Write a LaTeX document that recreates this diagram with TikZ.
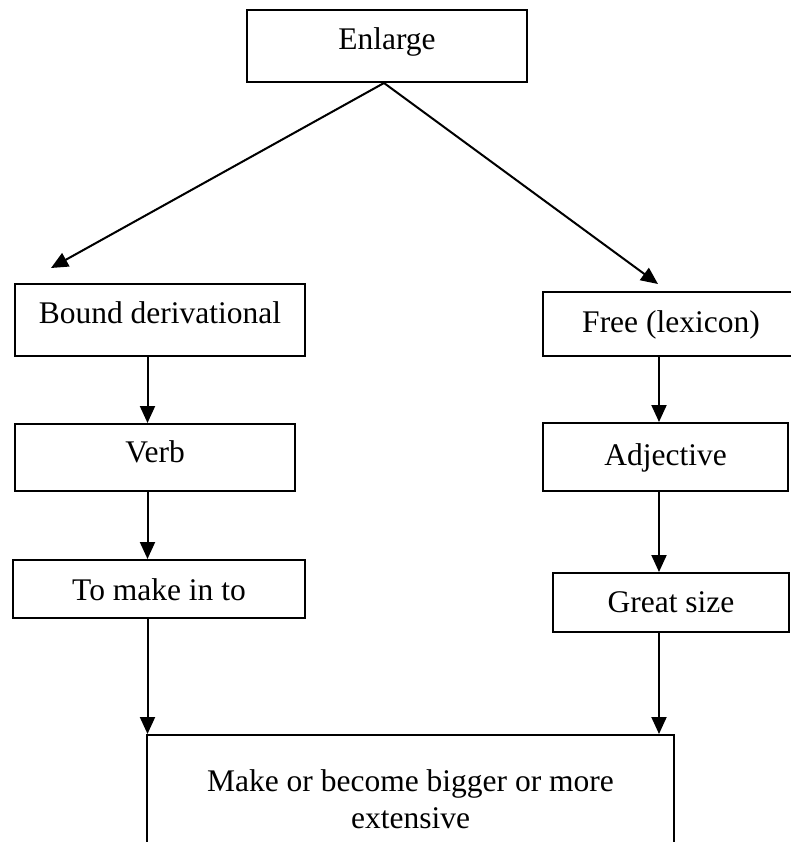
\documentclass[tikz,border=0pt]{standalone}
\usepackage{fontspec}
\setmainfont{Liberation Serif}
\usetikzlibrary{arrows.meta}
\begin{document}
\begin{tikzpicture}[x=1pt,y=-1pt,
  box/.style={draw,line width=2pt,rectangle,inner sep=0pt,text height=22pt,
    font=\fontsize{31.5}{37}\selectfont},
  arr/.style={line width=2pt,-{Triangle[length=17pt,width=15pt]}}]
\useasboundingbox (0,0) rectangle (791,842);

% boxes (text depth sets where each label sits in its box)
\node[box,text depth=14pt,minimum width=280pt,minimum height=72pt] (enlarge) at (387,46) {Enlarge};
\node[box,text depth=16pt,minimum width=290pt,minimum height=72pt] (bound) at (160,320) {Bound derivational};
\node[box,text depth=6pt,minimum width=256pt,minimum height=64pt] (free) at (671,324) {Free (lexicon)};
\node[box,text depth=13pt,minimum width=280pt,minimum height=67pt] (verb) at (155,457.5) {Verb};
\node[box,text depth=6pt,minimum width=245pt,minimum height=68pt] (adj) at (665.5,457) {Adjective};
\node[box,text depth=0pt,minimum width=292pt,minimum height=58pt] (tomake) at (159,589) {To make in to};
\node[box,text depth=3pt,minimum width=236pt,minimum height=59pt] (great) at (671,602.5) {Great size};
\node[draw,line width=2pt,inner sep=0pt,font=\fontsize{31.5}{37}\selectfont,
  minimum width=527pt,minimum height=129pt,align=center] (final) at (410.5,799.5)
  {Make or become bigger or more\\extensive};

% column guides and free arrow ends
\coordinate (lcol) at (147.5,0);
\coordinate (rcol) at (659,0);
\coordinate (ltip) at (51,268);
\coordinate (rtip) at (658,284);

% connectors
\draw[arr] ([xshift=-3pt]enlarge.south) -- (ltip);
\draw[arr] ([xshift=-3pt]enlarge.south) -- (rtip);
\draw[arr] (bound.south -| lcol) -- (verb.north -| lcol);
\draw[arr] (verb.south -| lcol) -- (tomake.north -| lcol);
\draw[arr] (tomake.south -| lcol) -- (final.north -| lcol);
\draw[arr] (free.south -| rcol) -- (adj.north -| rcol);
\draw[arr] (adj.south -| rcol) -- (great.north -| rcol);
\draw[arr] (great.south -| rcol) -- (final.north -| rcol);
\end{tikzpicture}
\end{document}
